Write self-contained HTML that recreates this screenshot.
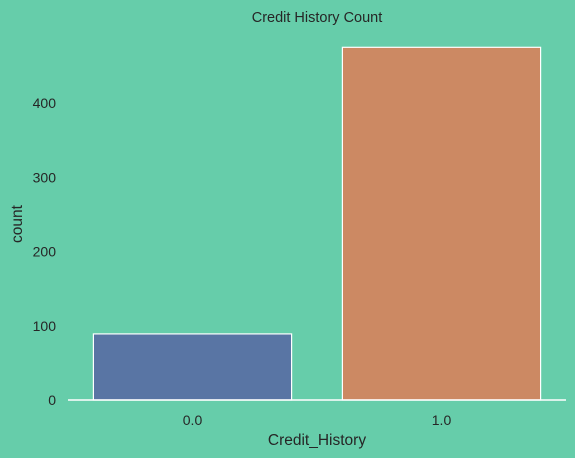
<!DOCTYPE html>
<html><head><meta charset="utf-8"><style>
body{margin:0;background:#66cdaa;}
svg{display:block;font-family:"Liberation Sans","DejaVu Sans",sans-serif;}
</style></head><body>
<svg id="chart" width="575" height="458" viewBox="0 0 575 458" xmlns="http://www.w3.org/2000/svg">
<rect width="575" height="458" fill="#66cdaa"/>
<text x="317" y="22" text-anchor="middle" font-size="14.5" fill="#262626">Credit History Count</text>
<g id="bars"></g>
<g id="yticks"></g>
<g id="xticks"></g>
<line x1="68" y1="400" x2="566" y2="400" stroke="#fff" stroke-width="1.5"/>
<text x="317" y="445" text-anchor="middle" font-size="15.5" fill="#262626">Credit_History</text>
<text transform="translate(22,224) rotate(-90)" text-anchor="middle" font-size="15.5" fill="#262626">count</text>
</svg>
<script>
const categories = ["0.0", "1.0"];
const counts = [89, 475];
const yTicks = [0, 100, 200, 300, 400];
const colors = ["#5975a4", "#cc8963"];
const NS = "http://www.w3.org/2000/svg";
const x0 = 68, x1 = 566, yBase = 400, pxPerUnit = 297 / 400;
const band = (x1 - x0) / categories.length;
function xCenter(i){ return x0 + band * (i + 0.5); }
function yPos(v){ return yBase - v * pxPerUnit; }
const bars = document.getElementById('bars');
categories.forEach((c, i) => {
  const w = band * 0.8;
  const r = document.createElementNS(NS, 'rect');
  r.setAttribute('x', xCenter(i) - w / 2 + 0.5);
  r.setAttribute('y', yPos(counts[i]));
  r.setAttribute('width', w - 1);
  r.setAttribute('height', yBase - yPos(counts[i]));
  r.setAttribute('fill', colors[i % colors.length]);
  r.setAttribute('stroke', '#fff');
  r.setAttribute('stroke-width', '1.2');
  
  
  bars.appendChild(r);
  const t = document.createElementNS(NS, 'text');
  t.setAttribute('x', xCenter(i));
  t.setAttribute('y', 425);
  t.setAttribute('text-anchor', 'middle');
  t.setAttribute('font-size', '14');
  t.setAttribute('fill', '#262626');
  
  
  t.textContent = c;
  document.getElementById('xticks').appendChild(t);
});
yTicks.forEach(v => {
  const t = document.createElementNS(NS, 'text');
  t.setAttribute('x', 56);
  t.setAttribute('y', yPos(v) + 5);
  t.setAttribute('text-anchor', 'end');
  t.setAttribute('font-size', '14');
  t.setAttribute('fill', '#262626');
  
  
  t.textContent = v;
  document.getElementById('yticks').appendChild(t);
});
</script>
</body></html>
